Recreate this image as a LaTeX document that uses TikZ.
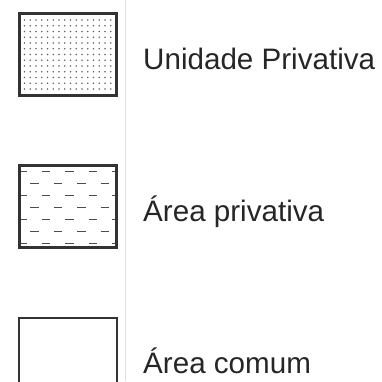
\documentclass[tikz,border=0pt]{standalone}
\usepackage{fontspec}
\setmainfont{Liberation Sans}
\begin{document}
\begin{tikzpicture}[x=1pt,y=-1pt,
    legbox/.style={draw=black!80,line width=2.6pt,inner sep=0pt,minimum width=97.4pt,minimum height=82.4pt},
    legtext/.style={anchor=base west,inner sep=0pt,text=black!85,font=\fontsize{29.6}{34}\selectfont},
    dotmark/.style={fill=black!60},
    dashmark/.style={draw=black!70,line width=1.1pt}]
    \clip (0,0) rectangle (382,381);
    \coordinate (rtop) at (125,0);
    \coordinate (rbot) at (125,381);
    \draw[black!12,line width=0.8pt] (rtop)--(rbot);
    % dotted fill
    \foreach \i in {0,...,15}
        \foreach \j in {0,...,12}
            \fill[dotmark] (24.5+5.75*\i,20+5.75*\j) circle (0.9pt);
    % dashed fill
    \begin{scope}
        \clip (21,167) rectangle (115,246);
        \foreach \j in {0,2,4,6}
            \foreach \k in {0,...,4}
                \draw[dashmark] (18.25+23.5*\k,171.7+11.9*\j) -- ++(8.5,0);
        \foreach \j in {1,3,5}
            \foreach \k in {0,...,3}
                \draw[dashmark] (30+23.5*\k,171.7+11.9*\j) -- ++(8.5,0);
    \end{scope}
    \node[legbox] (unid) at (68,54.5){};
    \node[legbox] (priv) at (68,206.5){};
    \node[legbox,line width=2pt,minimum width=98pt,minimum height=83pt] (comum) at (68,359.5){};
    \node[legtext] (tunid) at (143,69) {Unidade Privativa};
    \node[legtext] (tpriv) at (143,221) {Área privativa};
    \node[legtext] (tcomum) at (143,373) {Área comum};
\end{tikzpicture}
\end{document}
